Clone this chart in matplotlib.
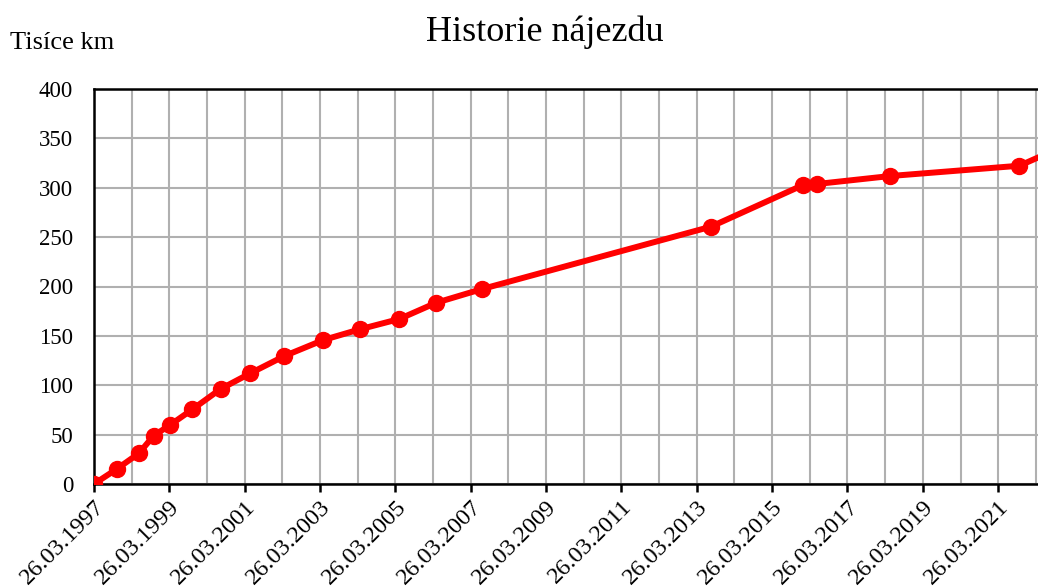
import matplotlib
matplotlib.use("Agg")
import matplotlib.pyplot as plt
import matplotlib.dates as mdates
import datetime

# mileage history (thousands of km)
dates = ["26.03.1997", "02.11.1997", "05.06.1998", "25.10.1998", "02.04.1999",
         "05.11.1999", "04.08.2000", "19.05.2001", "15.04.2002", "27.04.2003",
         "17.04.2004", "03.05.2005", "27.04.2006", "16.07.2007", "11.08.2013",
         "21.01.2016", "02.06.2016", "16.05.2018", "18.10.2021", "31.10.2022"]
km = [0, 15.2, 31.1, 48.9, 59.7, 75.6, 96.2, 112.1, 129.6, 145.8,
      156.7, 167.1, 183.6, 197.5, 260.6, 302.8, 303.8, 311.9, 322.3, 339.8]
tick_years = list(range(1997, 2022, 2))
grid_years = list(range(1997, 2023))

def d(s):
    return datetime.datetime.strptime(s, "%d.%m.%Y")

x = [d(s) for s in dates]

plt.rcParams['font.family'] = ['Liberation Serif', 'DejaVu Serif']

fig = plt.figure(figsize=(10.38, 5.88), dpi=100)
ax = fig.add_axes([94/1038, 1-484/588, 1-94/1038, (484-89)/588])

ax.plot(x, km, color='#ff0000', lw=4.3, marker='o', ms=11.5,
        solid_capstyle='round', zorder=3)

ax.set_xlim(d("26.03.1997"), d("16.04.2022"))
ax.set_ylim(0, 400)
ax.set_yticks(range(0, 401, 50))

major = [datetime.datetime(y, 3, 26) for y in tick_years]
minor = [datetime.datetime(y, 3, 26) for y in grid_years]
ax.set_xticks(major)
ax.set_xticks(minor, minor=True)
ax.xaxis.set_major_formatter(mdates.DateFormatter("%d.%m.%Y"))
ax.grid(True, which='both', axis='x', color='#b0b0b0', lw=1.5)
ax.grid(True, which='major', axis='y', color='#b0b0b0', lw=1.5)
ax.set_axisbelow(True)

for sp in ['left', 'bottom', 'top']:
    ax.spines[sp].set_linewidth(1.8)
ax.spines['right'].set_visible(False)

ax.tick_params(axis='y', length=0, pad=15, labelsize=16.5)
ax.tick_params(axis='x', which='major', length=6, width=1.8, pad=3, labelsize=17.5)
ax.tick_params(axis='x', which='minor', length=0)
plt.setp(ax.get_xticklabels(), rotation=45, ha='right', rotation_mode='anchor')

fig.text(0.525, 0.946, "Historie nájezdu", ha='center', va='center', fontsize=26)
fig.text(0.01, 0.927, "Tisíce km", ha='left', va='center', fontsize=19)

fig.savefig("out.png", dpi=100)
